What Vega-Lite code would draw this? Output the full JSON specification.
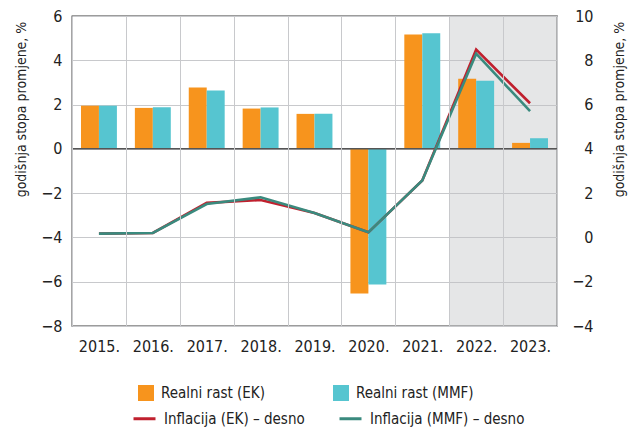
{
  "$schema": "https://vega.github.io/schema/vega-lite/v6.json",
  "width": 485,
  "height": 310,
  "autosize": {"type": "none"},
  "padding": {"left": 72, "top": 16, "right": 79, "bottom": 101},
  "background": "white",
  "config": {
    "font": "Liberation Sans Narrow, DejaVu Sans Condensed, Roboto Condensed, Liberation Sans",
    "view": {"stroke": "#3a3a3a", "strokeWidth": 1.3},
    "axis": {"labelColor": "#222", "titleColor": "#222", "labelFontSize": 16, "titleFontSize": 14, "titleFontWeight": "normal", "ticks": false, "domain": false, "gridColor": "#c8c9cc", "gridWidth": 1},
    "legend": {"labelFontSize": 15, "labelColor": "#222", "padding": 0, "labelOffset": 7, "rowPadding": 9}
  },
  "datasets": {
    "growth": [
      {"year": "2015.", "series": "Realni rast (EK)", "value": 1.95},
      {"year": "2015.", "series": "Realni rast (MMF)", "value": 1.95},
      {"year": "2016.", "series": "Realni rast (EK)", "value": 1.85},
      {"year": "2016.", "series": "Realni rast (MMF)", "value": 1.88},
      {"year": "2017.", "series": "Realni rast (EK)", "value": 2.77},
      {"year": "2017.", "series": "Realni rast (MMF)", "value": 2.63},
      {"year": "2018.", "series": "Realni rast (EK)", "value": 1.82},
      {"year": "2018.", "series": "Realni rast (MMF)", "value": 1.87},
      {"year": "2019.", "series": "Realni rast (EK)", "value": 1.58},
      {"year": "2019.", "series": "Realni rast (MMF)", "value": 1.58},
      {"year": "2020.", "series": "Realni rast (EK)", "value": -6.53},
      {"year": "2020.", "series": "Realni rast (MMF)", "value": -6.13},
      {"year": "2021.", "series": "Realni rast (EK)", "value": 5.17},
      {"year": "2021.", "series": "Realni rast (MMF)", "value": 5.22},
      {"year": "2022.", "series": "Realni rast (EK)", "value": 3.17},
      {"year": "2022.", "series": "Realni rast (MMF)", "value": 3.08},
      {"year": "2023.", "series": "Realni rast (EK)", "value": 0.27},
      {"year": "2023.", "series": "Realni rast (MMF)", "value": 0.48}
    ],
    "infl": [
      {"year": "2015.", "series": "Inflacija (EK) – desno", "value": 0.17},
      {"year": "2016.", "series": "Inflacija (EK) – desno", "value": 0.2},
      {"year": "2017.", "series": "Inflacija (EK) – desno", "value": 1.56},
      {"year": "2018.", "series": "Inflacija (EK) – desno", "value": 1.69},
      {"year": "2019.", "series": "Inflacija (EK) – desno", "value": 1.1},
      {"year": "2020.", "series": "Inflacija (EK) – desno", "value": 0.23},
      {"year": "2021.", "series": "Inflacija (EK) – desno", "value": 2.57},
      {"year": "2022.", "series": "Inflacija (EK) – desno", "value": 8.48},
      {"year": "2023.", "series": "Inflacija (EK) – desno", "value": 6.06},
      {"year": "2015.", "series": "Inflacija (MMF) – desno", "value": 0.17},
      {"year": "2016.", "series": "Inflacija (MMF) – desno", "value": 0.2},
      {"year": "2017.", "series": "Inflacija (MMF) – desno", "value": 1.51},
      {"year": "2018.", "series": "Inflacija (MMF) – desno", "value": 1.81},
      {"year": "2019.", "series": "Inflacija (MMF) – desno", "value": 1.1},
      {"year": "2020.", "series": "Inflacija (MMF) – desno", "value": 0.23},
      {"year": "2021.", "series": "Inflacija (MMF) – desno", "value": 2.57},
      {"year": "2022.", "series": "Inflacija (MMF) – desno", "value": 8.3},
      {"year": "2023.", "series": "Inflacija (MMF) – desno", "value": 5.7}
    ],
    "proj": [{"year": "2022."}, {"year": "2023."}]
  },
  "layer": [
    {
      "layer": [
        {
          "data": {"name": "proj"},
          "mark": {"type": "rect", "fill": "#BEC0C4", "opacity": 0.4},
          "encoding": {
            "x": {"field": "year", "type": "nominal", "scale": {"paddingInner": 0, "paddingOuter": 0}, "axis": {"title": null, "labelAngle": 0, "labelPadding": 12, "grid": true, "tickBand": "extent"}}
          }
        },
        {
          "data": {"name": "growth"},
          "mark": {"type": "bar"},
          "encoding": {
            "x": {"field": "year", "type": "nominal", "scale": {"paddingInner": 0, "paddingOuter": 0}, "axis": {"title": null, "labelAngle": 0, "labelPadding": 12, "grid": true, "tickBand": "extent"}},
            "xOffset": {"field": "series", "type": "nominal", "scale": {"paddingInner": 0, "paddingOuter": 0.5}},
            "y": {"field": "value", "type": "quantitative", "scale": {"domain": [-8, 6], "nice": false, "zero": false},
              "axis": {"orient": "left", "values": [-8, -6, -4, -2, 0, 2, 4, 6], "grid": true, "labelPadding": 10, "title": "godišnja stopa promjene, %", "titleAngle": -90, "titleAlign": "center", "titleBaseline": "middle", "titleX": -51, "titleY": 93}},
            "fill": {"field": "series", "type": "nominal", "scale": {"range": ["#F7941D", "#56C5D0"]},
              "legend": {"title": null, "orient": "none", "legendX": 66, "legendY": 369, "columns": 2, "columnPadding": 68, "symbolType": "square", "symbolSize": 256, "symbolStrokeWidth": 0}}
          }
        },
        {
          "data": {"values": [{}]},
          "mark": {"type": "rule", "color": "#555", "strokeWidth": 1.5},
          "encoding": {"y": {"datum": 0, "type": "quantitative"}}
        }
      ]
    },
    {
      "data": {"name": "infl"},
      "mark": {"type": "line", "strokeWidth": 2.6},
      "encoding": {
        "x": {"field": "year", "type": "nominal", "scale": {"paddingInner": 0, "paddingOuter": 0}, "axis": {"title": null, "labelAngle": 0, "labelPadding": 12, "grid": true, "tickBand": "extent"}},
        "y": {"field": "value", "type": "quantitative", "scale": {"domain": [-4, 10], "nice": false, "zero": false},
          "axis": {"orient": "right", "values": [-4, -2, 0, 2, 4, 6, 8, 10], "grid": false, "labelAlign": "right", "labelPadding": 36, "title": "godišnja stopa promjene, %", "titleAngle": -90, "titleAlign": "center", "titleBaseline": "middle", "titleX": 62, "titleY": 93}},
        "stroke": {"field": "series", "type": "nominal", "scale": {"range": ["#C0202E", "#3A8A7E"]},
          "legend": {"title": null, "orient": "none", "legendX": 60, "legendY": 390, "columns": 2, "columnPadding": 28, "symbolType": "stroke", "symbolSize": 484, "symbolStrokeWidth": 3}}
      }
    }
  ],
  "resolve": {"scale": {"y": "independent"}}
}
